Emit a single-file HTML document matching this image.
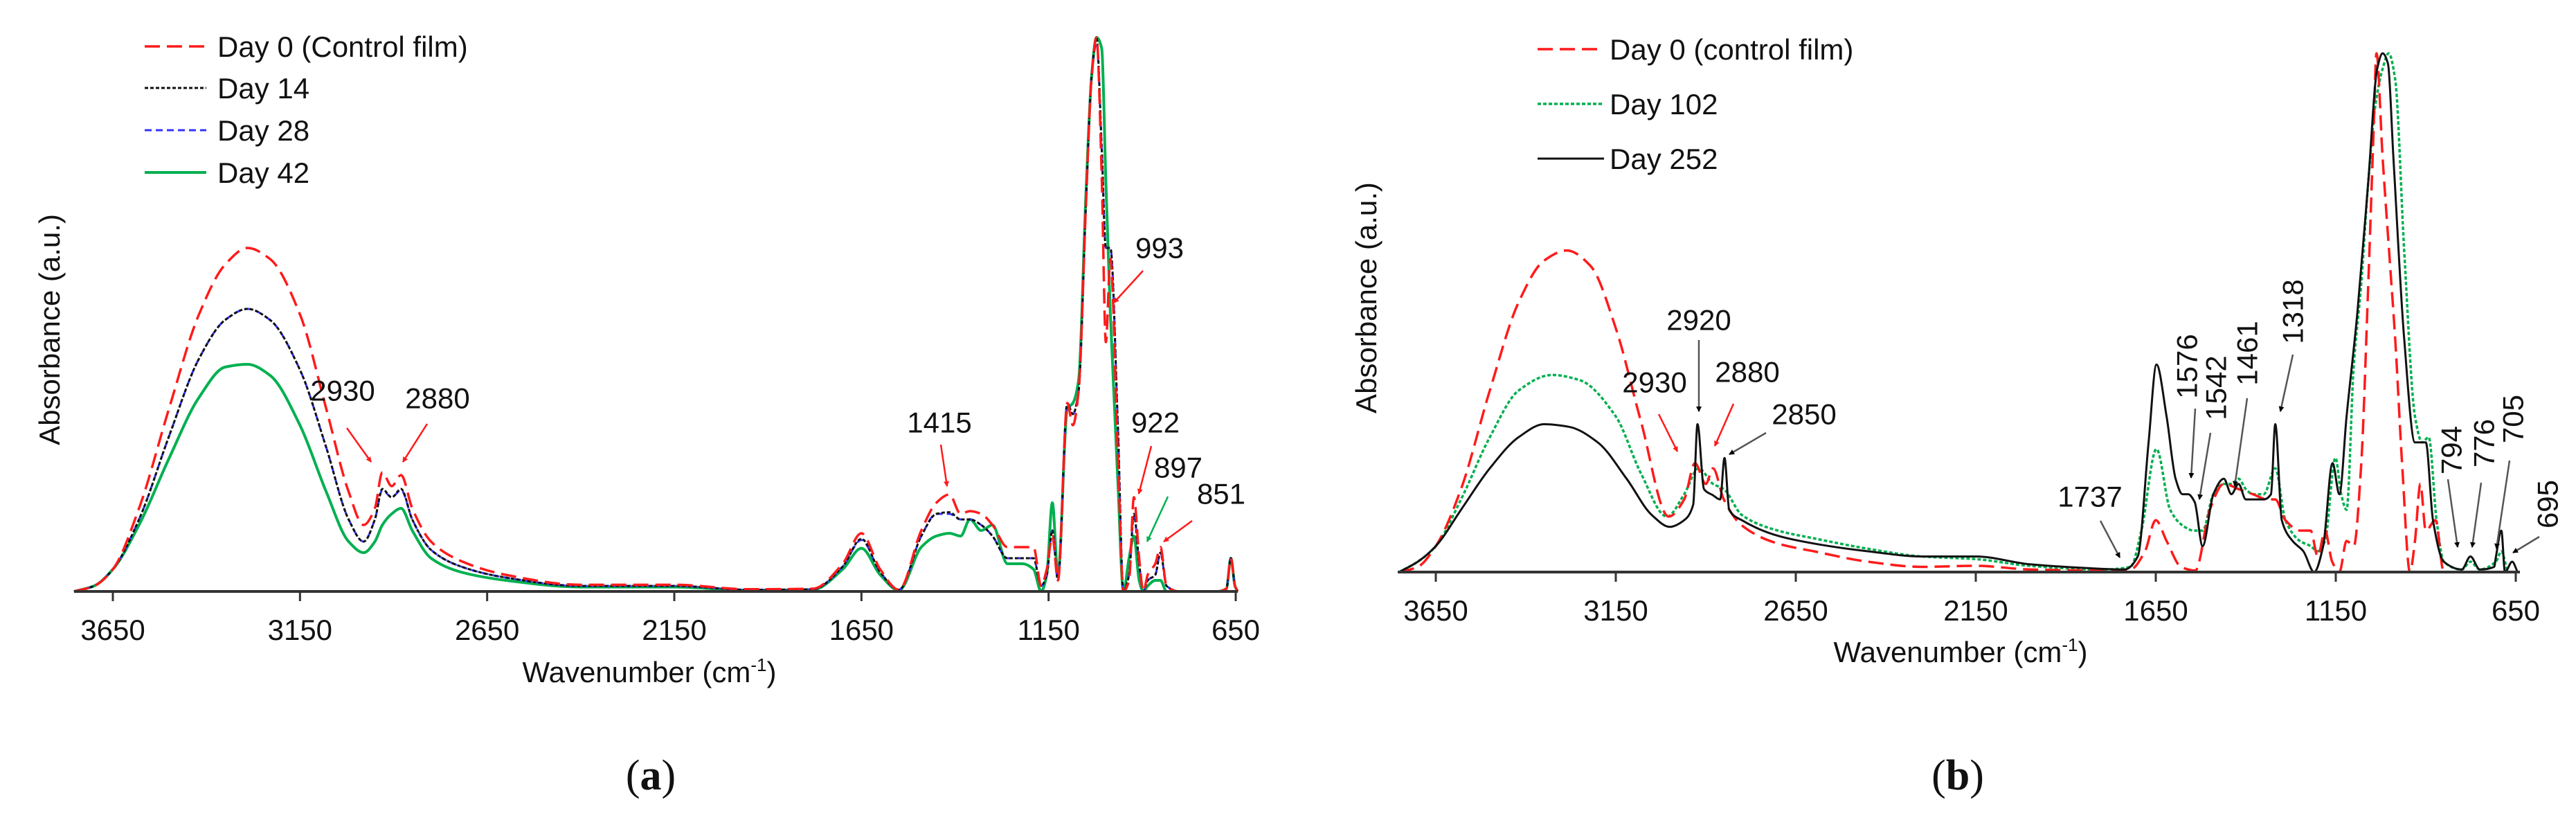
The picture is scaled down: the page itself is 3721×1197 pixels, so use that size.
<!DOCTYPE html>
<html><head><meta charset="utf-8"><style>
html,body{margin:0;padding:0;background:#fff;}
svg{display:block;font-family:"Liberation Sans",Arial,sans-serif;}
</style></head><body>
<svg id="fig" width="3721" height="1197" viewBox="0 0 3721 1197" xmlns="http://www.w3.org/2000/svg">
<defs>
<marker id="ahR" markerWidth="8" markerHeight="8" refX="7" refY="4" orient="auto" markerUnits="userSpaceOnUse" viewBox="0 0 8 8"><path d="M0,0 L8,4 L0,8 z" fill="#ff1a1a"/></marker>
<marker id="ahK" markerWidth="8" markerHeight="8" refX="7" refY="4" orient="auto" markerUnits="userSpaceOnUse" viewBox="0 0 8 8"><path d="M0,0 L8,4 L0,8 z" fill="#000"/></marker>
<marker id="ahG" markerWidth="8" markerHeight="8" refX="7" refY="4" orient="auto" markerUnits="userSpaceOnUse" viewBox="0 0 8 8"><path d="M0,0 L8,4 L0,8 z" fill="#00b050"/></marker>
</defs>
<g id="panelA"></g>
<g id="panelB"></g>
</svg>
<script>
// ---------- Panel (a) data ----------
const wnA = [3754,3700,3650,3580,3500,3420,3350,3290,3230,3150,3080,3020,2980,2950,2930,2905,2880,2850,2800,2720,2600,2400,2150,1950,1780,1700,1650,1600,1550,1490,1450,1415,1385,1360,1330,1300,1260,1220,1190,1170,1155,1140,1125,1100,1085,1070,1050,1035,1022,1008,997,985,965,950,935,922,908,897,885,865,851,835,800,700,675,663,652,645];
const aDay0 = [0,0.01,0.04,0.15,0.33,0.5,0.59,0.62,0.6,0.5,0.33,0.18,0.12,0.15,0.215,0.19,0.21,0.15,0.09,0.055,0.03,0.012,0.012,0.004,0.005,0.05,0.105,0.04,0.003,0.11,0.16,0.175,0.14,0.145,0.14,0.12,0.08,0.08,0.08,0.01,0.04,0.1,0.02,0.34,0.3,0.36,0.7,0.93,1.0,0.75,0.45,0.6,0.25,0.0,0.02,0.17,0.06,0.0,0.03,0.05,0.08,0.01,0,0,0.005,0.06,0.01,0];
const aDay14 = [0,0.01,0.04,0.13,0.28,0.42,0.49,0.51,0.49,0.4,0.26,0.13,0.09,0.13,0.185,0.17,0.185,0.13,0.075,0.045,0.025,0.01,0.01,0.003,0.004,0.045,0.095,0.035,0.003,0.1,0.14,0.143,0.13,0.13,0.12,0.1,0.06,0.06,0.06,0.01,0.03,0.11,0.02,0.34,0.32,0.36,0.7,0.93,1.0,0.8,0.62,0.62,0.3,0.0,0.03,0.14,0.05,0.0,0.02,0.03,0.07,0.01,0,0,0.005,0.06,0.01,0];
const aDay28 = [0,0.01,0.04,0.13,0.28,0.42,0.49,0.51,0.49,0.4,0.26,0.13,0.09,0.13,0.183,0.17,0.183,0.13,0.075,0.045,0.025,0.01,0.01,0.003,0.004,0.045,0.093,0.035,0.003,0.1,0.14,0.14,0.13,0.13,0.12,0.1,0.06,0.06,0.06,0.01,0.03,0.11,0.02,0.34,0.32,0.36,0.7,0.93,0.99,0.8,0.62,0.62,0.3,0.0,0.03,0.14,0.05,0.0,0.02,0.03,0.07,0.01,0,0,0.005,0.06,0.01,0];
const aDay42 = [0,0.01,0.04,0.12,0.24,0.35,0.405,0.41,0.39,0.3,0.18,0.09,0.07,0.09,0.12,0.14,0.15,0.11,0.06,0.035,0.02,0.008,0.008,0.002,0.003,0.04,0.078,0.03,0.002,0.08,0.1,0.105,0.1,0.13,0.11,0.12,0.05,0.05,0.04,0.0,0.03,0.16,0.03,0.33,0.34,0.38,0.72,0.93,1.0,0.98,0.74,0.5,0.2,0.0,0.06,0.1,0.02,0.0,0.01,0.02,0.02,0.0,0,0,0.005,0.06,0.01,0];
const ticksA = [3650,3150,2650,2150,1650,1150,650];
const legendA = ["Day 0 (Control film)","Day 14","Day 28","Day 42"];

// ---------- Panel (b) data ----------
const wnB0 = [3752,3700,3650,3580,3500,3420,3350,3286,3220,3150,3080,3003,2960,2930,2900,2880,2850,2800,2700,2600,2450,2300,2150,2000,1800,1720,1680,1650,1620,1580,1540,1500,1461,1420,1380,1340,1318,1290,1250,1220,1200,1180,1160,1140,1120,1100,1080,1060,1045,1037,1020,1000,985,965,944,930,915,900,873,850,800,700,645];
const bDay0 = [0,0.01,0.05,0.16,0.35,0.52,0.6,0.62,0.59,0.47,0.29,0.107,0.14,0.21,0.17,0.2,0.14,0.09,0.055,0.04,0.02,0.01,0.012,0.005,0.003,0.005,0.04,0.1,0.06,0.01,0.003,0.12,0.17,0.16,0.15,0.14,0.14,0.1,0.08,0.08,0.03,0.08,0.02,0.0,0.06,0.05,0.2,0.55,0.85,1.0,0.8,0.6,0.45,0.2,0.0,0.06,0.17,0.08,0.1,0.0,0,0,0];
const wnB102 = [3752,3700,3650,3580,3500,3420,3327,3250,3150,3080,3008,2960,2920,2880,2850,2800,2700,2600,2450,2300,2150,2000,1800,1720,1690,1648,1610,1576,1545,1520,1490,1461,1440,1420,1400,1380,1350,1318,1290,1250,1220,1200,1180,1151,1135,1120,1100,1080,1060,1040,1020,1003,985,960,930,910,892,870,850,800,776,750,705,690,670,645];
const bDay102 = [0,0.02,0.05,0.14,0.26,0.35,0.38,0.37,0.3,0.19,0.107,0.15,0.2,0.17,0.16,0.11,0.08,0.065,0.045,0.03,0.025,0.012,0.005,0.01,0.08,0.237,0.12,0.09,0.08,0.08,0.15,0.17,0.17,0.18,0.16,0.15,0.15,0.2,0.1,0.06,0.05,0.04,0.06,0.22,0.15,0.12,0.4,0.55,0.75,0.9,0.97,1.0,0.95,0.62,0.3,0.25,0.26,0.1,0.02,0.005,0.02,0.005,0.02,0.04,0.0,0];
const wnB252 = [3752,3700,3650,3580,3500,3420,3349,3280,3200,3120,3050,3000,2960,2935,2923,2905,2880,2860,2848,2835,2800,2700,2600,2450,2300,2150,2000,1850,1737,1700,1670,1648,1620,1595,1576,1560,1542,1520,1490,1461,1440,1420,1400,1380,1350,1330,1318,1300,1270,1240,1210,1185,1159,1140,1120,1090,1060,1035,1020,1005,990,960,930,900,880,850,800,776,750,710,705,690,680,660,645];
const bDay252 = [0,0.02,0.05,0.12,0.2,0.26,0.285,0.28,0.25,0.18,0.11,0.087,0.1,0.13,0.285,0.16,0.148,0.14,0.22,0.12,0.1,0.07,0.055,0.04,0.03,0.03,0.015,0.008,0.005,0.03,0.25,0.4,0.3,0.18,0.15,0.15,0.135,0.05,0.15,0.18,0.15,0.17,0.14,0.14,0.14,0.15,0.285,0.1,0.06,0.04,0.0,0.05,0.21,0.15,0.3,0.5,0.75,0.97,1.0,0.98,0.8,0.45,0.25,0.25,0.1,0.02,0.005,0.03,0.005,0.01,0.03,0.08,0.0,0.02,0];
const ticksB = [3650,3150,2650,2150,1650,1150,650];
const legendB = ["Day 0 (control film)","Day 102","Day 252"];

const NS = "http://www.w3.org/2000/svg";
function mk(parent, tag, attrs, text) {
  const e = document.createElementNS(NS, tag);
  for (const k in attrs) e.setAttribute(k, attrs[k]);
  if (text !== undefined) e.textContent = text;
  parent.appendChild(e);
  return e;
}

const axA = { x650: 1785, x3650: 163, left: 107, right: 1788, y0: 854, y1: 54 };
const axB = { x650: 3634, x3650: 2074, left: 2019, right: 3640, y0: 826, y1: 77 };
function xs(ax, wn) { return ax.x3650 + (3650 - wn) * (ax.x650 - ax.x3650) / 3000; }
function ys(ax, v) { return ax.y0 - v * (ax.y0 - ax.y1); }

// monotone cubic path (Fritsch-Carlson)
function monoPath(P) {
  const n = P.length;
  if (n < 2) return "";
  const dx = [], s = [];
  for (let i = 0; i < n - 1; i++) { dx.push(P[i+1][0] - P[i][0]); s.push((P[i+1][1] - P[i][1]) / dx[i]); }
  const m = [s[0]];
  for (let i = 1; i < n - 1; i++) m.push(s[i-1] * s[i] <= 0 ? 0 : 3 * (dx[i-1] + dx[i]) / ((2*dx[i] + dx[i-1]) / s[i-1] + (dx[i] + 2*dx[i-1]) / s[i]));
  m.push(s[n-2]);
  let d = "M" + P[0][0].toFixed(1) + "," + P[0][1].toFixed(1);
  for (let i = 0; i < n - 1; i++) {
    const h = dx[i] / 3;
    d += "C" + (P[i][0] + h).toFixed(1) + "," + (P[i][1] + m[i]*h).toFixed(1) + " " + (P[i+1][0] - h).toFixed(1) + "," + (P[i+1][1] - m[i+1]*h).toFixed(1) + " " + P[i+1][0].toFixed(1) + "," + P[i+1][1].toFixed(1);
  }
  return d;
}

function drawSeries(g, ax, wns, vals, stroke, dash, width, name) {
  const n = Math.min(wns.length, vals.length);
  const P = [];
  for (let i = 0; i < n; i++) P.push([xs(ax, wns[i]), ys(ax, vals[i])]);
  const p = mk(g, "path", { d: monoPath(P), fill: "none", stroke: stroke, "stroke-width": width, "stroke-dasharray": dash, "stroke-linejoin": "round" });
  
  
}

function drawAxes(g, ax, ticks, prefix) {
  const base = mk(g, "line", { x1: ax.left, x2: ax.right, y1: ax.y0, y2: ax.y0, stroke: "#333", "stroke-width": 4 });
  
  
  ticks.forEach(t => {
    const x = xs(ax, t);
    const tk = mk(g, "line", { x1: x, x2: x, y1: ax.y0, y2: ax.y0 + 14, stroke: "#333", "stroke-width": 3 });
    
    
    const tl = mk(g, "text", { x: x, y: ax.y0 + 70, "font-size": 42, "text-anchor": "middle", fill: "#111" }, String(t));
    
    
  });
}

function legend(g, items, styles, x1, x2, tx, ys0, prefix) {
  items.forEach((lab, i) => {
    const y = ys0[i];
    const l = mk(g, "line", { x1: x1, x2: x2, y1: y, y2: y, stroke: styles[i][0], "stroke-width": styles[i][2], "stroke-dasharray": styles[i][1] });
    
    
    const t = mk(g, "text", { x: tx, y: y + 15, "font-size": 42, fill: "#111" }, lab);
    
    
  });
}

function note(g, txt, tx, ty, x1, y1, x2, y2, color, rot, name) {
  const attrs = { x: tx, y: ty, "font-size": 42, "text-anchor": "middle", "dominant-baseline": "central", fill: "#111" };
  if (rot) attrs.transform = "rotate(-90 " + tx + " " + ty + ")";
  const t = mk(g, "text", attrs, txt);
  
  
  const mid = color === "#ff1a1a" ? "ahR" : (color === "#00b050" ? "ahG" : "ahK");
  const ln = mk(g, "line", { x1: x1, y1: y1, x2: x2, y2: y2, stroke: color === "#000" ? "#555" : color, "stroke-width": 2.5, "marker-end": "url(#" + mid + ")" });
  
  
}

// ----- Panel A -----
const gA = document.getElementById("panelA");
drawSeries(gA, axA, wnA, aDay42, "#00b050", "none", 4, "series-a-day42");
drawSeries(gA, axA, wnA, aDay28, "#3333ff", "10,6", 3, "series-a-day28");
drawSeries(gA, axA, wnA, aDay14, "#111", "5,3", 3, "series-a-day14");
drawSeries(gA, axA, wnA, aDay0, "#ff1a1a", "22,10", 3.5, "series-a-day0");
drawAxes(gA, axA, ticksA, "a");
legend(gA, legendA, [["#ff1a1a","22,10",3.5],["#111","5,3",3],["#3333ff","10,6",3],["#00b050","none",4]], 209, 298, 314, [67,127,188,249], "a");
let t;
t = mk(gA, "text", { x: 938, y: 985, "font-size": 42, "text-anchor": "middle", fill: "#111" });


t.innerHTML = 'Wavenumber (cm<tspan font-size="26" dy="-16">-1</tspan><tspan dy="16">)</tspan>';
t = mk(gA, "text", { x: 86, y: 476, "font-size": 42, "text-anchor": "middle", fill: "#111", transform: "rotate(-90 86 476)" }, "Absorbance (a.u.)");


t = mk(gA, "text", { x: 940, y: 1140, "font-size": 62, "text-anchor": "middle", fill: "#111", "font-family": "Liberation Serif, serif" });


t.innerHTML = '(<tspan font-weight="bold">a</tspan>)';
note(gA, "2930", 495, 564, 501, 618, 536, 667, "#ff1a1a", false, "a-peak-2930");
note(gA, "2880", 632, 575, 617, 612, 582, 667, "#ff1a1a", false, "a-peak-2880");
note(gA, "1415", 1357, 610, 1359, 642, 1368, 702, "#ff1a1a", false, "a-peak-1415");
note(gA, "993", 1675, 358, 1651, 391, 1609, 437, "#ff1a1a", false, "a-peak-993");
note(gA, "922", 1669, 610, 1663, 644, 1645, 713, "#ff1a1a", false, "a-peak-922");
note(gA, "897", 1702, 675, 1687, 717, 1657, 782, "#00b050", false, "a-peak-897");
note(gA, "851", 1764, 713, 1722, 752, 1681, 782, "#ff1a1a", false, "a-peak-851");

// ----- Panel B -----
const gB = document.getElementById("panelB");
drawSeries(gB, axB, wnB102, bDay102, "#00b050", "5,3", 3.5, "series-b-day102");
drawSeries(gB, axB, wnB0, bDay0, "#ff1a1a", "22,10", 3.5, "series-b-day0");
drawSeries(gB, axB, wnB252, bDay252, "#111", "none", 3, "series-b-day252");
drawAxes(gB, axB, ticksB, "b");
legend(gB, legendB, [["#ff1a1a","22,10",3.5],["#00b050","5,3",3.5],["#111","none",3]], 2221, 2317, 2325, [71,150,229], "b");
t = mk(gB, "text", { x: 2832, y: 956, "font-size": 42, "text-anchor": "middle", fill: "#111" });


t.innerHTML = 'Wavenumber (cm<tspan font-size="26" dy="-16">-1</tspan><tspan dy="16">)</tspan>';
t = mk(gB, "text", { x: 1988, y: 430, "font-size": 42, "text-anchor": "middle", fill: "#111", transform: "rotate(-90 1988 430)" }, "Absorbance (a.u.)");


t = mk(gB, "text", { x: 2828, y: 1140, "font-size": 62, "text-anchor": "middle", fill: "#111", "font-family": "Liberation Serif, serif" });


t.innerHTML = '(<tspan font-weight="bold">b</tspan>)';
note(gB, "2920", 2454, 462, 2454, 491, 2454, 594, "#000", false, "b-peak-2920");
note(gB, "2930", 2390, 552, 2396, 598, 2423, 652, "#ff1a1a", false, "b-peak-2930");
note(gB, "2880", 2524, 537, 2504, 583, 2477, 644, "#ff1a1a", false, "b-peak-2880");
note(gB, "2850", 2606, 598, 2551, 625, 2498, 656, "#000", false, "b-peak-2850");
note(gB, "1737", 3019, 717, 3034, 752, 3062, 805, "#000", false, "b-peak-1737");
note(gB, "1576", 3159, 529, 3171, 590, 3165, 690, "#000", true, "b-peak-1576");
note(gB, "1542", 3201, 560, 3193, 625, 3177, 721, "#000", true, "b-peak-1542");
note(gB, "1461", 3246, 510, 3246, 575, 3228, 702, "#000", true, "b-peak-1461");
note(gB, "1318", 3312, 450, 3312, 512, 3294, 594, "#000", true, "b-peak-1318");
note(gB, "794", 3541, 650, 3536, 692, 3550, 790, "#000", true, "b-peak-794");
note(gB, "776", 3588, 640, 3584, 697, 3571, 790, "#000", true, "b-peak-776");
note(gB, "705", 3630, 605, 3625, 665, 3606, 792, "#000", true, "b-peak-705");
note(gB, "695", 3680, 728, 3668, 775, 3630, 798, "#000", true, "b-peak-695");
</script>
</body></html>
